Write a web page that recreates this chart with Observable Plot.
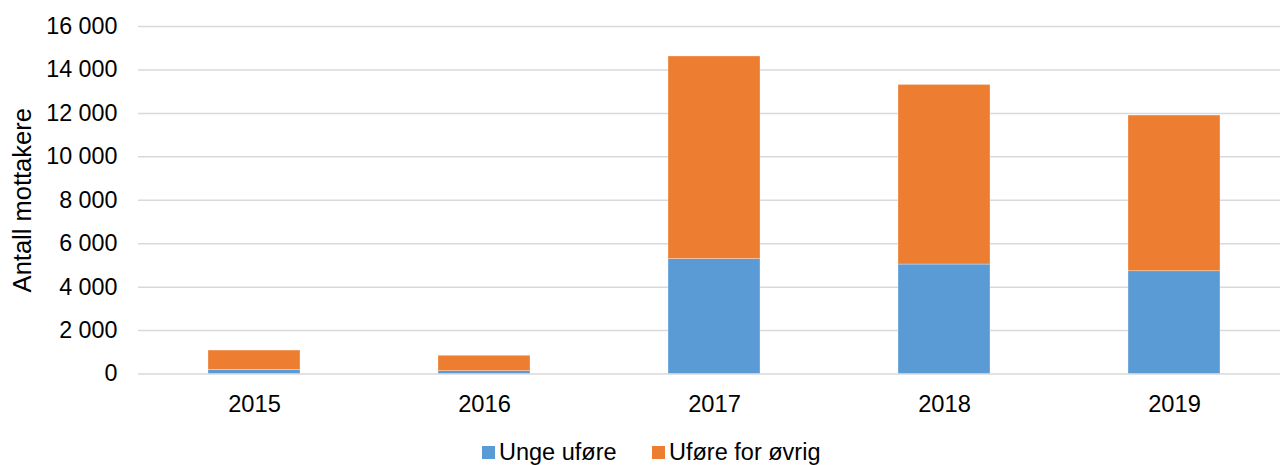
<!DOCTYPE html>
<html>
<head>
<meta charset="utf-8">
<script src="https://cdn.jsdelivr.net/npm/d3@7"></script>
<script src="https://cdn.jsdelivr.net/npm/@observablehq/plot@0.6"></script>
<style>
  html, body { margin: 0; padding: 0; background: #fff; overflow: hidden; width: 1280px; height: 465px; }
  #chart svg { overflow: hidden; display: block; }
  #legend { position: relative; height: 45px; font-family: "Liberation Sans", Arial, sans-serif; font-size: 23.5px; color: #000; }
  .item { position: absolute; top: 19px; display: flex; align-items: center; white-space: nowrap; line-height: 26px; }
  .sw { width: 13px; height: 13px; margin-right: 4px; display: inline-block; }
</style>
</head>
<body>
<div id="chart"></div>
<div id="legend"></div>
<script>
const years = ["2015", "2016", "2017", "2018", "2019"];
const ungeUfore = [190, 130, 5290, 5040, 4730];
const uforeOvrig = [890, 710, 9330, 8270, 7170];
const seriesNames = ["Unge uføre", "Uføre for øvrig"];
const seriesColors = ["#5B9BD5", "#ED7D31"];
const yTicks = [0, 2000, 4000, 6000, 8000, 10000, 12000, 14000, 16000];

const data = [];
years.forEach((y, i) => {
  data.push({year: y, series: seriesNames[0], value: ungeUfore[i]});
  data.push({year: y, series: seriesNames[1], value: uforeOvrig[i]});
});

const fmt = d => d3.format(",")(d).replace(/,/g, " ");

const chart = Plot.plot({
  width: 1280,
  height: 420,
  marginLeft: 138,
  marginRight: -11,
  marginTop: 26,
  marginBottom: 46.5,
  style: { fontFamily: "'Liberation Sans', Arial, sans-serif", color: "#000", background: "#fff" },
  x: { type: "band", domain: years, paddingInner: 0.6, paddingOuter: 0.3 },
  y: { domain: [0, 16000] },
  color: { domain: seriesNames, range: seriesColors },
  marks: [
    Plot.ruleY(yTicks, { stroke: "#d9d9d9", strokeWidth: 1.5 }),
    Plot.barY(data, {
      x: "year", y: "value", fill: "series",
      order: seriesNames,
      stroke: "#fff", strokeWidth: 0.6, strokeOpacity: 0.5
    }),
    Plot.axisX({ tickSize: 0, tickPadding: 21, fontSize: 23.7, label: null }),
    Plot.axisY({
      ticks: yTicks, tickFormat: fmt, tickSize: 0, tickPadding: 21, fontSize: 23.3,
      label: "Antall mottakere", labelAnchor: "center", labelArrow: "none", labelOffset: 126
    })
  ]
});
chart.querySelectorAll("text").forEach(el => {
  if (el.textContent.trim() === "Antall mottakere") el.setAttribute("font-size", "25.5");
});
document.getElementById("chart").appendChild(chart);

const legend = document.getElementById("legend");
const lefts = [482, 652];
seriesNames.forEach((name, i) => {
  const item = document.createElement("div");
  item.className = "item";
  item.style.left = lefts[i] + "px";
  const sw = document.createElement("span");
  sw.className = "sw";
  sw.style.background = seriesColors[i];
  item.appendChild(sw);
  item.appendChild(document.createTextNode(name));
  legend.appendChild(item);
});
</script>
</body>
</html>
